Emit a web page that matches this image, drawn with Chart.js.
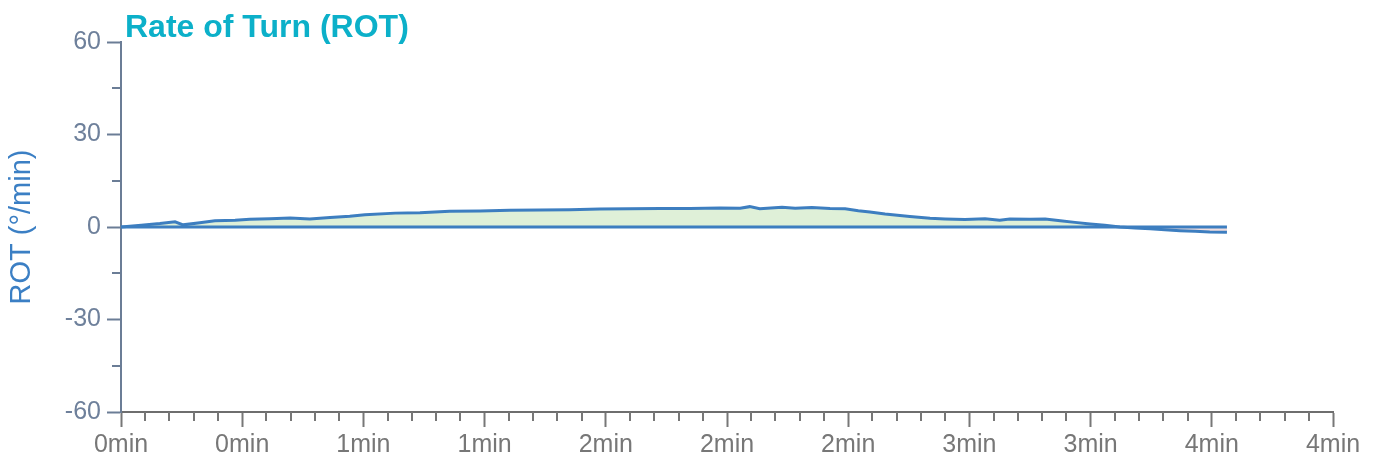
<!DOCTYPE html>
<html>
<head>
<meta charset="utf-8">
<script src="https://cdn.jsdelivr.net/npm/chart.js@4/dist/chart.umd.min.js"></script>
<style>
html,body{margin:0;padding:0;background:#fff;}
#wrap{width:1375px;height:459px;position:relative;}
</style>
</head>
<body>
<div id="wrap"><canvas id="c" width="1375" height="459"></canvas></div>
<script>
// time in seconds
const times = [0,4,7.7,10.7,12.3,15.6,18.6,22.6,25.5,29.5,33.5,37.4,41.4,45.3,48.3,54.3,59.2,65.1,71.1,77,83,88.9,94.8,100.8,106.7,112.7,118.6,122.6,124.5,126.5,130.9,133.5,136.8,140.4,143.4,146,148.3,151.3,156.2,160.2,163.2,167.1,171.1,174,176,180,183,186,188.9,191.9,194.8,197.8,200.8,203.8,206.7,209.7,212.7,215.6,219];
// rate of turn in deg/min
const rot = [0,0.6,1.1,1.7,0.7,1.4,2.0,2.2,2.5,2.7,2.9,2.6,3.1,3.5,4.0,4.5,4.6,5.1,5.2,5.4,5.5,5.6,5.8,5.9,6.0,6.0,6.2,6.1,6.6,5.9,6.4,6.1,6.3,6.0,5.9,5.3,4.9,4.2,3.4,2.8,2.6,2.4,2.7,2.2,2.6,2.5,2.6,2.0,1.5,1.0,0.6,0,-0.3,-0.6,-0.9,-1.2,-1.4,-1.6,-1.7];
const zeroLine = [0,0];
const zeroTimes = [0,219];
const yTicks = [-60,-30,0,30,60];
const yMinor = [-45,-15,15,45];
const xTickStep = 24;
const xMinorStep = 4.8;
const titleText = 'Rate of Turn (ROT)';
const yTitle = 'ROT (°/min)';

const FONT = '"Liberation Sans", Arial, Helvetica, sans-serif';
const LINE = '#3d7ec0';

const rotData = times.map((t,i)=>({x:t,y:rot[i]}));
const zeroData = zeroTimes.map((t,i)=>({x:t,y:zeroLine[i]}));

const extras = {
  id:'extras',
  afterDraw(chart){
    const ctx = chart.ctx;
    const xs = chart.scales.x, ys = chart.scales.y;
    const ca = chart.chartArea;
    ctx.save();
    ctx.strokeStyle = '#777';
    ctx.lineWidth = 2;
    for(let v=0; v<=240+1e-6; v+=xMinorStep){
      const r = Math.round(v*10)/10;
      const m = r % xTickStep;
      if (Math.abs(m) < 1e-6 || Math.abs(m-xTickStep)<1e-6) continue;
      const px = Math.round(xs.getPixelForValue(r));
      ctx.beginPath(); ctx.moveTo(px, ca.bottom); ctx.lineTo(px, ca.bottom+9); ctx.stroke();
    }
    ctx.strokeStyle = '#6b7d96';
    yMinor.forEach(v=>{
      const py = Math.round(ys.getPixelForValue(v));
      ctx.beginPath(); ctx.moveTo(ca.left-9, py); ctx.lineTo(ca.left, py); ctx.stroke();
    });
    ctx.fillStyle = '#0cb0c9';
    ctx.font = 'bold 32px ' + FONT;
    ctx.textAlign = 'left';
    ctx.textBaseline = 'alphabetic';
    ctx.fillText(titleText, 125, 37);
    ctx.restore();
  }
};

new Chart(document.getElementById('c'), {
  type:'line',
  data:{
    datasets:[
      {data:rotData, borderColor:LINE, borderWidth:3, pointRadius:0, tension:0,
       fill:{target:{value:0}, above:'#dff0d8', below:'#f2dede'}, order:2},
      {data:zeroData, borderColor:LINE, borderWidth:3, pointRadius:0, fill:false, order:1}
    ]
  },
  options:{
    responsive:false,
    animation:false,
    layout:{padding:{top:42, right:42, left:0, bottom:0}},
    plugins:{legend:{display:false}, tooltip:{enabled:false}, title:{display:false}},
    scales:{
      x:{
        type:'linear', min:0, max:240,
        border:{display:true, color:'#6e6e6e', width:2},
        grid:{drawOnChartArea:false, drawTicks:true, tickLength:15, tickColor:'#777', tickWidth:2},
        ticks:{stepSize:xTickStep, autoSkip:false, maxRotation:0, padding:3, color:'#777',
          font:{family:FONT, size:25},
          callback:(v)=>Math.round(v/60)+'min'},
        afterFit:(s)=>{s.height=47;}
      },
      y:{
        min:-60, max:60,
        afterBuildTicks:(s)=>{s.ticks = yTicks.map(v=>({value:v}));},
        border:{display:true, color:'#6b7d96', width:2},
        grid:{drawOnChartArea:false, drawTicks:true, tickLength:14, tickColor:'#6b7d96', tickWidth:2},
        ticks:{padding:6, color:'#6e809b', font:{family:FONT, size:25}},
        title:{display:true, text:yTitle, color:'#3b7fc4', font:{family:FONT, size:29}, padding:{top:5,bottom:0}},
        afterFit:(s)=>{s.width=121;}
      }
    }
  },
  plugins:[extras]
});
</script>
</body>
</html>
